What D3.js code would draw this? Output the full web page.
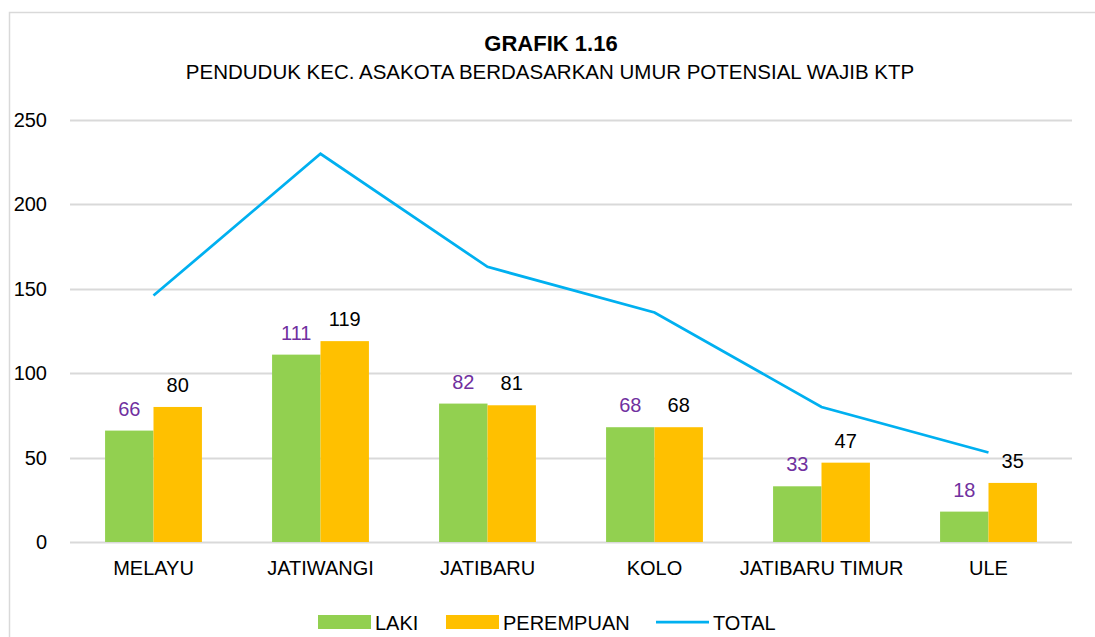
<!DOCTYPE html>
<html>
<head>
<meta charset="utf-8">
<script src="https://cdn.jsdelivr.net/npm/d3@7/dist/d3.min.js"></script>
<style>
body { margin: 0; background: #fff; }
text { font-family: "Liberation Sans", Arial, sans-serif; }
</style>
</head>
<body>
<div id="chart"></div>
<script>
var categories = ['MELAYU', 'JATIWANGI', 'JATIBARU', 'KOLO', 'JATIBARU TIMUR', 'ULE'];
var laki = [66, 111, 82, 68, 33, 18];
var perempuan = [80, 119, 81, 68, 47, 35];
var total = [146, 230, 163, 136, 80, 53];
var yTicks = [0, 50, 100, 150, 200, 250];

var width = 1095;
var height = 637;
var fontSize = 20;

var svg = d3.select('#chart')
	.append('svg')
	.attr('width', width)
	.attr('height', height);

// chart frame (right and bottom edges fall outside the picture)
svg.append('rect')
	.attr('x', 9.5)
	.attr('y', 12.5)
	.attr('width', 1100)
	.attr('height', 640)
	.attr('fill', 'none')
	.attr('stroke', '#d9d9d9')
	.attr('stroke-width', 1.5);

var x = d3.scaleBand()
	.domain(categories)
	.range([70, 1072])
	.paddingInner(0.42)
	.paddingOuter(0.21);

var y = d3.scaleLinear()
	.domain([0, 250])
	.range([542, 120]);

var barW = x.bandwidth() / 2;

// gridlines
svg.append('g')
	.selectAll('line')
	.data(yTicks)
	.enter()
	.append('line')
	.attr('x1', 70)
	.attr('x2', 1072)
	.attr('y1', function(d){ return Math.round(y(d)) + 0.5; })
	.attr('y2', function(d){ return Math.round(y(d)) + 0.5; })
	.attr('stroke', '#d9d9d9')
	.attr('stroke-width', 2);

// y axis labels
var yAxis = svg.append('g')
	.attr('transform', 'translate(47,0)')
	.call(d3.axisLeft(y).tickValues(yTicks).tickSize(0).tickPadding(0));
yAxis.select('.domain').remove();
yAxis.selectAll('text')
	.attr('font-size', fontSize)
	.attr('fill', '#000')
	.style('font-family', '"Liberation Sans", Arial, sans-serif');

// x axis labels
var xAxis = svg.append('g')
	.attr('transform', 'translate(0,' + 561 + ')')
	.call(d3.axisBottom(x).tickSize(0).tickPadding(0));
xAxis.select('.domain').remove();
xAxis.selectAll('text')
	.attr('font-size', fontSize)
	.attr('fill', '#000')
	.style('font-family', '"Liberation Sans", Arial, sans-serif');

// bars
svg.append('g')
	.selectAll('rect')
	.data(laki)
	.enter()
	.append('rect')
	.attr('x', function(d, i){ return x(categories[i]); })
	.attr('y', function(d){ return y(d); })
	.attr('width', barW)
	.attr('height', function(d){ return y(0) - y(d); })
	.attr('fill', '#92d050');

svg.append('g')
	.selectAll('rect')
	.data(perempuan)
	.enter()
	.append('rect')
	.attr('x', function(d, i){ return x(categories[i]) + barW; })
	.attr('y', function(d){ return y(d); })
	.attr('width', barW)
	.attr('height', function(d){ return y(0) - y(d); })
	.attr('fill', '#ffc000');

// total line
var line = d3.line()
	.x(function(d, i){ return x(categories[i]) + x.bandwidth() / 2; })
	.y(function(d){ return y(d); });

svg.append('path')
	.datum(total)
	.attr('d', line)
	.attr('fill', 'none')
	.attr('stroke', '#00b0f0')
	.attr('stroke-width', 2.75);

// data labels
svg.append('g')
	.selectAll('text')
	.data(laki)
	.enter()
	.append('text')
	.attr('x', function(d, i){ return x(categories[i]) + barW / 2; })
	.attr('y', function(d){ return y(d) - 15; })
	.attr('text-anchor', 'middle')
	.attr('font-size', fontSize)
	.attr('fill', '#7030a0')
	.text(function(d){ return d; });

svg.append('g')
	.selectAll('text')
	.data(perempuan)
	.enter()
	.append('text')
	.attr('x', function(d, i){ return x(categories[i]) + barW * 1.5; })
	.attr('y', function(d){ return y(d) - 15; })
	.attr('text-anchor', 'middle')
	.attr('font-size', fontSize)
	.attr('fill', '#000')
	.text(function(d){ return d; });

// titles
svg.append('text')
	.attr('x', 551)
	.attr('y', 51)
	.attr('text-anchor', 'middle')
	.attr('font-size', 22)
	.attr('font-weight', 'bold')
	.text('GRAFIK 1.16');

svg.append('text')
	.attr('x', 550)
	.attr('y', 79)
	.attr('text-anchor', 'middle')
	.attr('font-size', 20.5)
	.text('PENDUDUK KEC. ASAKOTA BERDASARKAN UMUR POTENSIAL WAJIB KTP');

// legend
var legendItems = [
	{label: 'LAKI', color: '#92d050', type: 'rect', x: 318},
	{label: 'PEREMPUAN', color: '#ffc000', type: 'rect', x: 446},
	{label: 'TOTAL', color: '#00b0f0', type: 'line', x: 656}
];

var legend = svg.selectAll('.legend')
	.data(legendItems)
	.enter()
	.append('g')
	.attr('class', 'legend')
	.attr('transform', function(d){ return 'translate(' + d.x + ',622)'; });

legend.filter(function(d){ return d.type == 'rect'; })
	.append('rect')
	.attr('x', 0)
	.attr('y', -7)
	.attr('width', 53)
	.attr('height', 14)
	.attr('fill', function(d){ return d.color; });

legend.filter(function(d){ return d.type == 'line'; })
	.append('line')
	.attr('x1', 0)
	.attr('x2', 53)
	.attr('y1', 0)
	.attr('y2', 0)
	.attr('stroke', function(d){ return d.color; })
	.attr('stroke-width', 2.75);

legend.append('text')
	.attr('x', 57)
	.attr('y', 7.5)
	.attr('font-size', fontSize)
	.text(function(d){ return d.label; });
</script>
</body>
</html>
